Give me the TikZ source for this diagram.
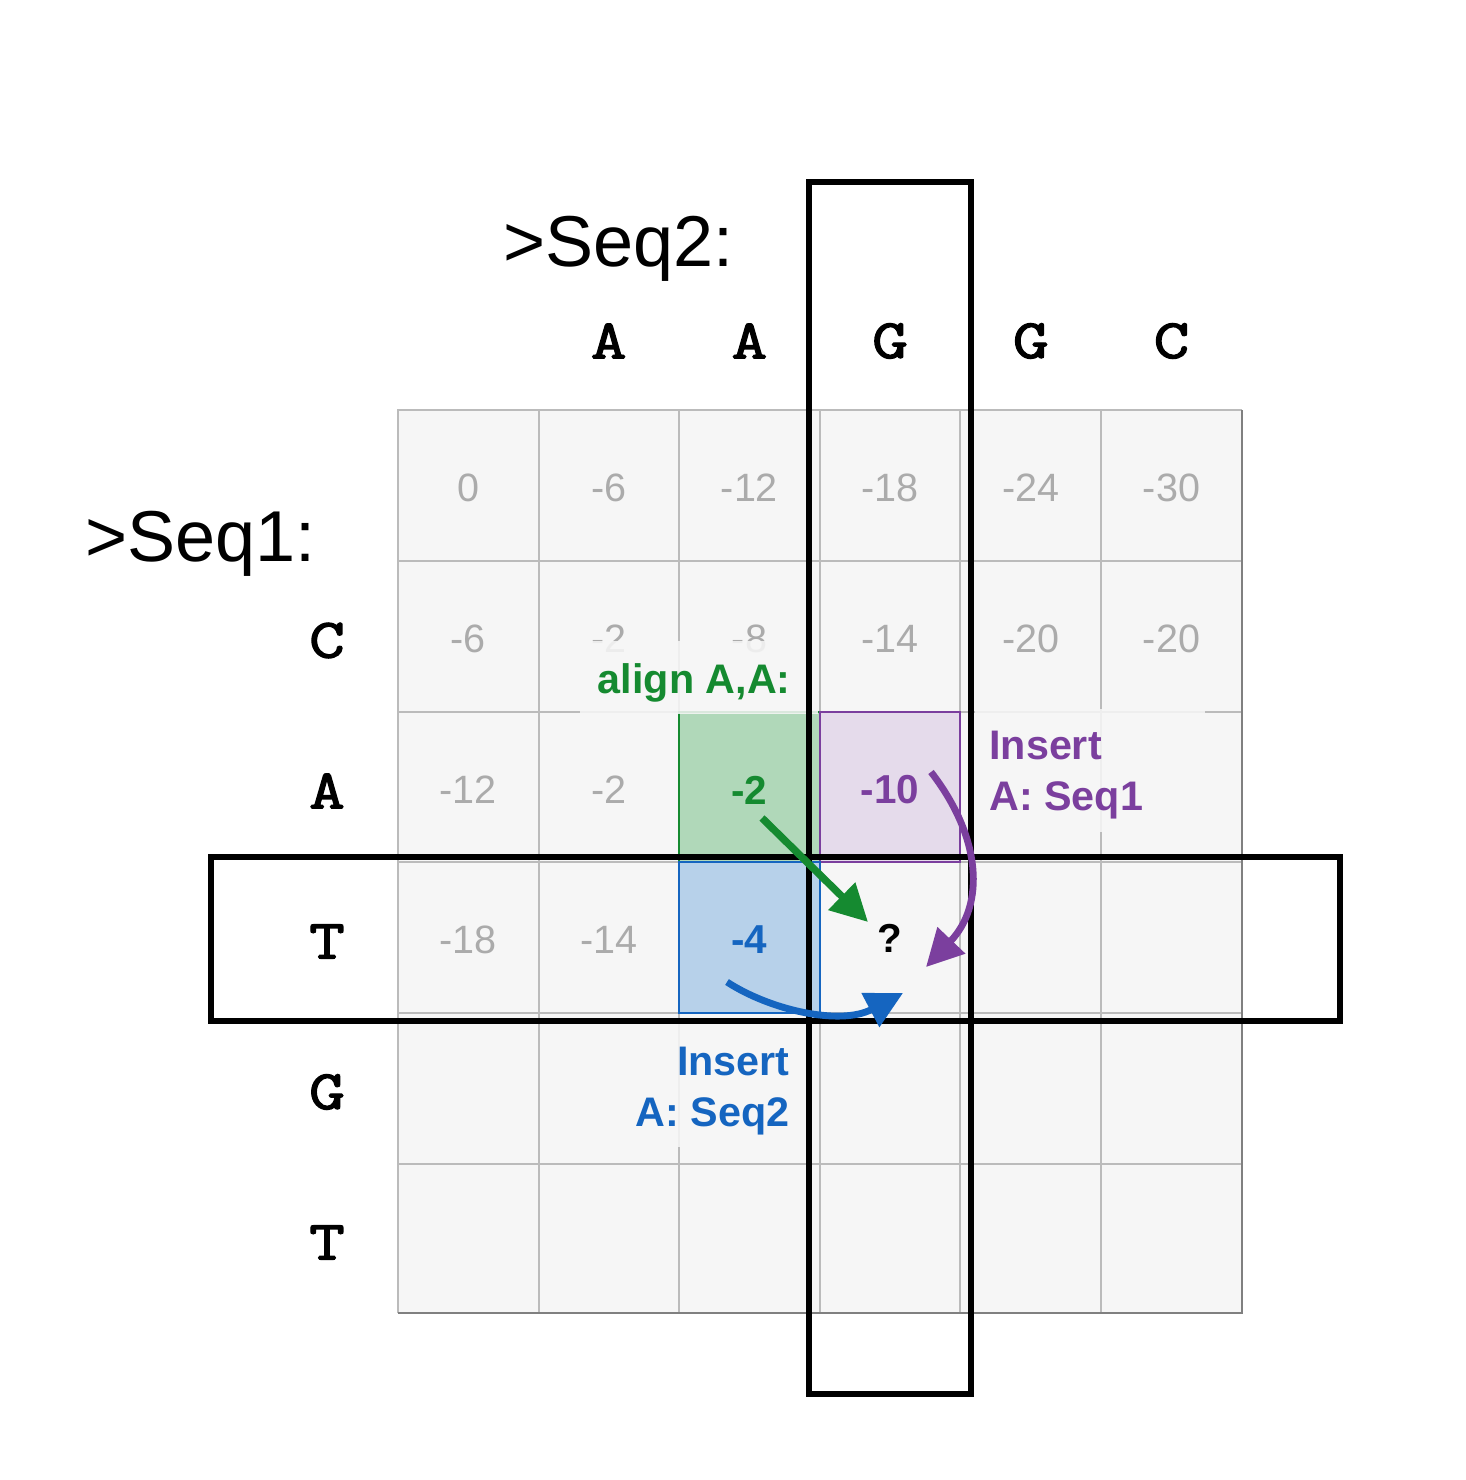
\documentclass[tikz,border=0pt]{standalone}
\usepackage{fontspec}
\setmainfont{Liberation Sans}
\newfontfamily\seqfont{Latin Modern Mono}[FakeBold=2.5,FakeStretch=1.25]
\usetikzlibrary{arrows.meta}
\definecolor{cellbg}{HTML}{F6F6F6}
\definecolor{gridc}{HTML}{BBBBBB}
\definecolor{edgec}{HTML}{808080}
\definecolor{numc}{HTML}{ABABAB}
\definecolor{dgreen}{HTML}{158A30}
\definecolor{lgreen}{HTML}{B0D8B9}
\definecolor{dpurple}{HTML}{7B3F9E}
\definecolor{lpurple}{HTML}{E5DBEB}
\definecolor{dblue}{HTML}{1565C0}
\definecolor{lblue}{HTML}{B7D1EA}
\tikzset{
  gridline/.style={draw=gridc, line width=1.1pt},
  num/.style={text=numc, font=\fontsize{22.5}{27}\selectfont, inner sep=0pt},
  bnum/.style={font=\bfseries\fontsize{23}{27}\selectfont, inner sep=0pt},
  seqletter/.style={font=\seqfont\fontsize{31.5}{36}\selectfont, inner sep=0pt},
  seqtitle/.style={font=\fontsize{41}{48}\selectfont, inner sep=0pt},
  lab/.style={font=\bfseries\fontsize{23.5}{29}\selectfont, inner sep=0pt},
  patch/.style={fill=cellbg, fill opacity=0.88},
  frame/.style={draw=black, line width=3.2pt},
  arr/.style={line width=4.2pt, -{Triangle[length=21pt,width=21pt]}},
}
\begin{document}
\begin{tikzpicture}[x=0.02cm,y=-0.02cm]
\useasboundingbox[fill=white] (0,0) rectangle (1466,1480);
% grid
\fill[cellbg] (398,410) rectangle (1242,1313);
\foreach \x in {539,679,820,960,1101} \draw[gridline] (\x,410) -- (\x,1313);
\foreach \y in {561,712,862,1013,1164} \draw[gridline] (398,\y) -- (1242,\y);
\draw[gridline] (398,1313) -- (398,410) -- (1242,410);
\draw[gridline, draw=edgec] (1242,410) -- (1242,1313) -- (398,1313);
% numbers
\foreach \v [count=\i from 0] in {0,-6,-12,-18,-24,-30}
  \node[num] (n0\i) at ({468+140.7*\i},488) {\v};
\foreach \v [count=\i from 0] in {-6,-2,-8,-14,-20,-20}
  \node[num] (n1\i) at ({468+140.7*\i},639) {\v};
\foreach \v [count=\i from 0] in {-12,-2}
  \node[num] (n2\i) at ({468+140.7*\i},790) {\v};
\foreach \v [count=\i from 0] in {-18,-14}
  \node[num] (n3\i) at ({468+140.7*\i},940) {\v};
% highlighted cells
\draw[draw=dgreen, fill=lgreen, line width=0.9pt] (679,712) rectangle (820,862);
\draw[draw=dpurple, fill=lpurple, line width=0.9pt] (820,712) rectangle (960,862);
\draw[draw=dblue, fill=lblue, line width=0.9pt] (679,862) rectangle (820,1013);
\node[bnum, text=dgreen] (n22) at (749,790) {-2};
\node[bnum, text=dpurple] (n23) at (890,790) {-10};
\node[bnum, text=dblue] (n32) at (749,940) {-4};
\node[bnum, text=black] (q) at (890,938) {?};
% label patches
\fill[patch] (580,641) rectangle (818,714);
\fill[patch] (975,709) rectangle (1205,832);
\fill[patch] (625,1022) rectangle (805,1147);
% labels
\node[lab, text=dgreen, anchor=base east] (alignlab) at (791,693) {align A,A:};
\node[lab, text=dpurple, anchor=north west, align=left] (ins1) at (989,731) {Insert\\A: Seq1};
\node[lab, text=dblue, anchor=north east, align=right] (ins2) at (790,1047) {Insert\\A: Seq2};
% titles
\node[seqtitle, anchor=base west] (seq2) at (503,266) {>Seq2:};
\node[seqtitle, anchor=base west] (seq1) at (85,561) {>Seq1:};
% sequence letters
\foreach \l [count=\i from 1] in {A,A,G,G,C}
  \node[seqletter] (col\i) at ({468+140.7*\i},341) {\l};
\foreach \l [count=\i from 1] in {C,A,T,G,T}
  \node[seqletter] (row\i) at (327,{490+150.5*\i}) {\l};
% frames
\draw[frame] (809,182) rectangle (971,1394);
\draw[frame] (211,857) rectangle (1340,1021);
% arrows
\coordinate (gs) at (762,818);
\coordinate (ge) at (868,922);
\coordinate (ps) at (931,772);
\coordinate (pe) at (926,967);
\coordinate (bs) at (727,982);
\coordinate (be) at (903,993);
\draw[arr, draw=dgreen] (gs) -- (ge);
\draw[arr, draw=dpurple, line width=3.9pt] (ps) .. controls (982,838) and (985,905) .. (pe);
\draw[arr, draw=dblue, line width=3.9pt] (bs) .. controls (770,1010) and (840,1026) .. (be);
\end{tikzpicture}
\end{document}
